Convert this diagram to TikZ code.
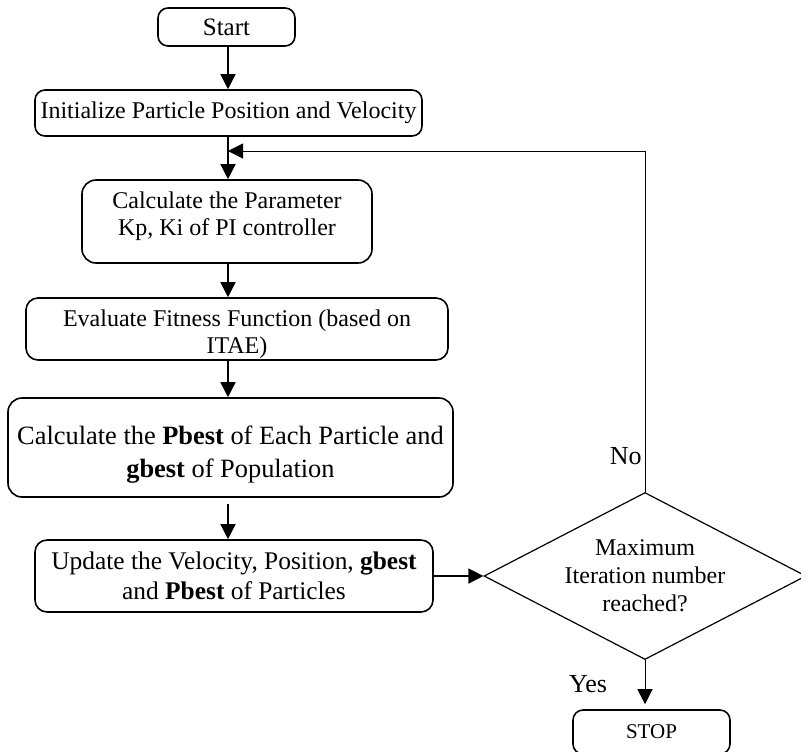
\documentclass[tikz,border=0pt]{standalone}
\usepackage{fontspec}
\setmainfont{Liberation Serif}
\usetikzlibrary{arrows.meta,positioning,shapes.geometric}
\newcommand{\liftup}[2]{\raisebox{#1}[\height][\depth]{\begin{tabular}{@{}c@{}}#2\end{tabular}}}

\begin{document}
\begin{tikzpicture}
[x=0.5pt,y=-0.5pt,
box/.style={draw=black,rounded corners=5pt,line width=.8pt,align=center,inner sep=2pt,font=\fontsize{12}{13.5}\selectfont},
dec/.style={draw=black,diamond,aspect=1.93,line width=.6pt,inner sep=0pt,minimum width=161pt,minimum height=83.5pt,align=center,font=\fontsize{12}{14}\selectfont},
arr/.style={-{Triangle[length=7.5pt,width=7.5pt]},line width=.7pt},
lab/.style={font=\fontsize{13}{15}\selectfont,inner sep=0pt}]
\useasboundingbox (0,0) rectangle (801,751);
\coordinate (loop) at (228,151);
\node[box,minimum width=68.5pt,minimum height=19pt,font=\fontsize{12.5}{14}\selectfont] (start) at (226.5,27) {Start};
\node[box,minimum width=193.5pt,minimum height=23pt] (init) at (228.5,113) {Initialize Particle Position and Velocity};
\node[box,minimum width=145pt,minimum height=41.5pt,rounded corners=7pt] (calc) at (227,221.5) {\liftup{2.5pt}{Calculate the Parameter\\ Kp, Ki of PI controller}};
\node[box,minimum width=211pt,minimum height=30pt,rounded corners=6pt] (eval) at (237,329) {\liftup{-3pt}{Evaluate Fitness Function (based on\\ ITAE)}};
\node[box,minimum width=222.5pt,minimum height=49.5pt,rounded corners=7pt,font=\fontsize{13.2}{16.5}\selectfont] (pbest) at (230.5,447.5) {\liftup{-3.5pt}{Calculate the \textbf{Pbest} of Each Particle and\\ \textbf{gbest} of Population}};
\node[box,minimum width=199pt,minimum height=36pt,rounded corners=6pt,font=\fontsize{12.7}{15}\selectfont] (update) at (234,576) {Update the Velocity, Position, \textbf{gbest}\\ and \textbf{Pbest} of Particles};
\node[dec] (check) at (645,576) {Maximum\\ Iteration number\\ reached?};
\node[box,minimum width=78.5pt,minimum height=22pt,font=\fontsize{10.5}{12}\selectfont] (stop) at (651.5,732) {STOP};
\node[lab,anchor=east] (no) at (642,456) {No};
\node[lab] (yes) at (588,684) {Yes};

\draw[arr] (start.south -| loop) -- (init.north -| loop);
\draw[arr] (init.south -| loop) -- (calc.north -| loop);
\draw[arr] (calc.south -| loop) -- (eval.north -| loop);
\draw[arr] (eval.south -| loop) -- (pbest.north -| loop);
\draw[arr] (pbest.south -| loop) ++(0,6) -- (update.north -| loop);
\draw[arr] (update.east) -- (check.west);
\draw[arr,line width=.5pt] (check.north) |- (loop);
\draw[arr,line width=.5pt,shorten >=2.5pt] (check.south) -- (check.south |- stop.north);
\end{tikzpicture}
\end{document}
